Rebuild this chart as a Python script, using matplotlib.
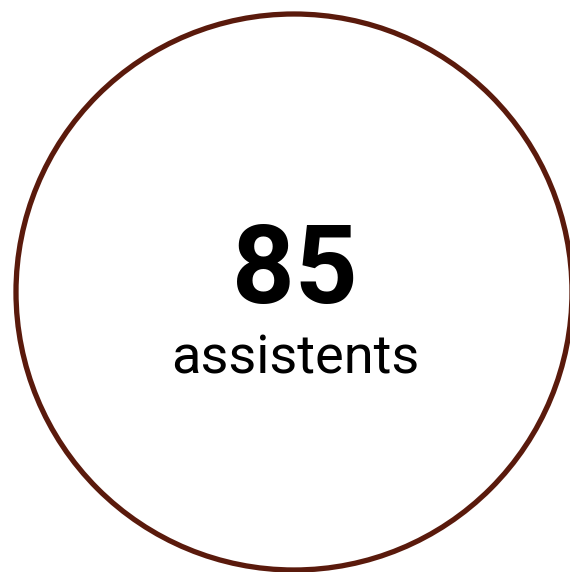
import matplotlib
matplotlib.use("Agg")
import matplotlib.pyplot as plt
from matplotlib.patches import Circle

value = 85
label = "assistents"

W, H = 570, 572
fig = plt.figure(figsize=(W / 100, H / 100), dpi=100)
ax = fig.add_axes([0, 0, 1, 1])
ax.set_xlim(0, W)
ax.set_ylim(H, 0)
ax.axis("off")

ax.add_patch(Circle((294, 292), 278, facecolor="white", edgecolor="#5a1a0c", linewidth=3.8))
ax.text(295, 303, str(value), ha="center", va="baseline", fontsize=79,
        fontweight="bold", family="Roboto", color="black")
ax.text(295, 373, label, ha="center", va="baseline", fontsize=39,
        family="Roboto", color="black")

fig.savefig("out.png", dpi=100)
